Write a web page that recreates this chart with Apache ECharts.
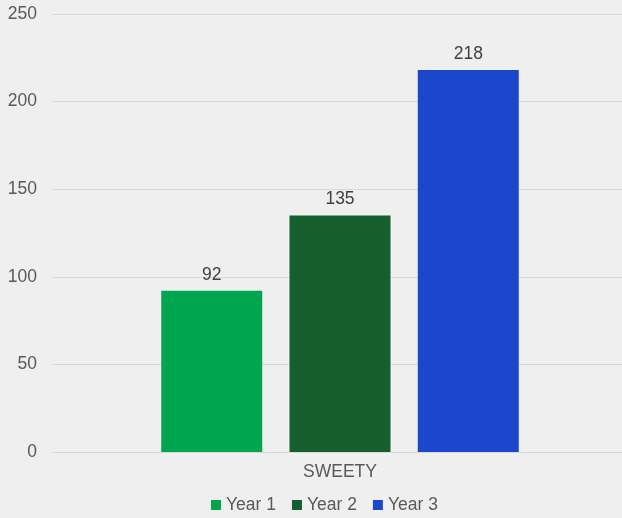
<!DOCTYPE html>
<html><head><meta charset="utf-8">
<script src="https://cdn.jsdelivr.net/npm/echarts@6/dist/echarts.min.js"></script>
<style>html,body{margin:0;padding:0;background:#efefef;}#c{width:622px;height:518px;}</style>
</head><body><div id="c"></div>
<script>
const categories = ['SWEETY'];
const seriesNames = ['Year 1', 'Year 2', 'Year 3'];
const year1 = [92];
const year2 = [135];
const year3 = [218];
const colors = ['#00a550', '#155f2c', '#1a47cc'];
const values = [year1, year2, year3];
const chart = echarts.init(document.getElementById('c'), null, {renderer: 'canvas'});
chart.setOption({
  backgroundColor: '#efefef',
  textStyle: {fontFamily: 'Liberation Sans'},
  grid: {left: 52, right: -6, top: 14, bottom: 66, containLabel: false, outerBoundsMode: 'none'},
  legend: {
    bottom: -1, left: 206,
    itemWidth: 10, itemHeight: 10, itemGap: 16,
    icon: 'rect',
    textStyle: {fontSize: 17.5, color: '#595959', fontFamily: 'Liberation Sans'},
    data: seriesNames
  },
  xAxis: {
    type: 'category', data: categories,
    axisLine: {lineStyle: {color: '#d9d9d9', width: 1}},
    axisTick: {show: false},
    axisLabel: {fontSize: 17.5, color: '#595959', margin: 11}
  },
  yAxis: {
    type: 'value', min: 0, max: 250, interval: 50,
    axisLine: {show: false}, axisTick: {show: false},
    splitLine: {lineStyle: {color: '#d9d9d9', width: 1}},
    axisLabel: {fontSize: 17.5, color: '#595959', margin: 15}
  },
  series: seriesNames.map((n, i) => ({
    name: n, type: 'bar', data: values[i],
    barWidth: 101, barGap: '27%',
    itemStyle: {color: colors[i]},
    label: {show: true, position: 'top', fontSize: 17.5, color: '#404040', distance: 7}
  }))
});
</script></body></html>
